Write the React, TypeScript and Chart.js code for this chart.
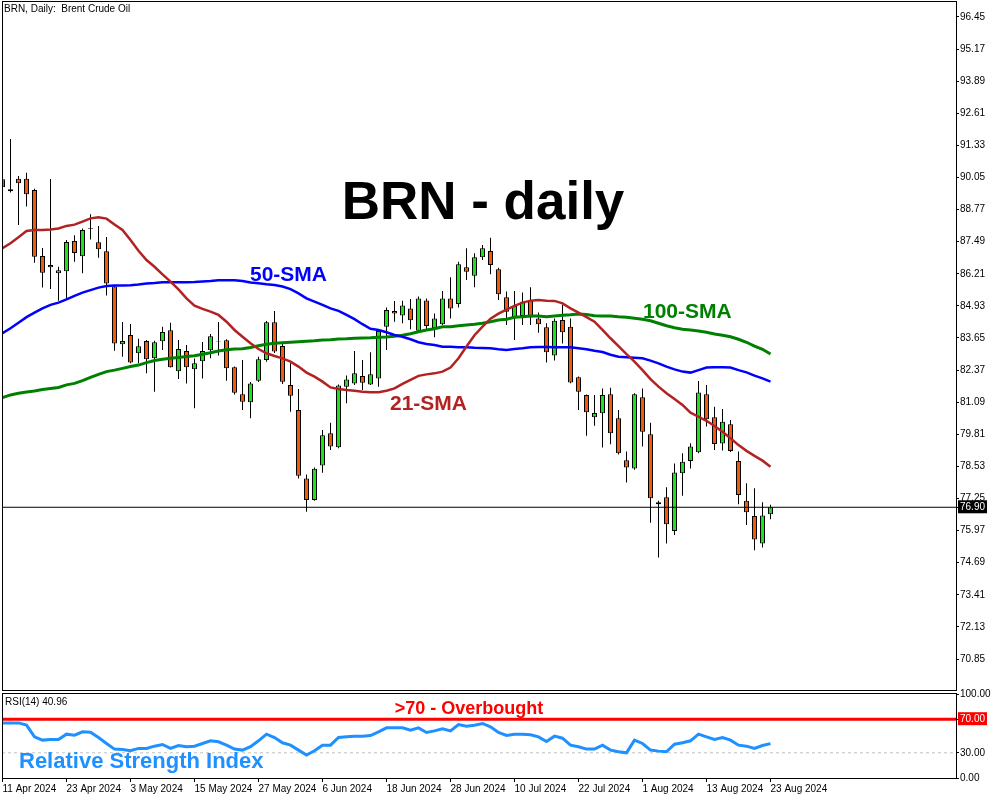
import React, { useEffect, useRef } from "react";
import { Chart, registerables } from "chart.js";

Chart.register(...registerables);

// ---------- data ----------
const DATE_LABELS = ["11 Apr 2024", "23 Apr 2024", "3 May 2024", "15 May 2024", "27 May 2024", "6 Jun 2024", "18 Jun 2024", "28 Jun 2024", "10 Jul 2024", "22 Jul 2024", "1 Aug 2024", "13 Aug 2024", "23 Aug 2024"];
const DATE_TICK_BARS = [0, 8, 16, 24, 32, 40, 48, 56, 64, 72, 80, 88, 96];

const OPEN = [89.98, 89.58, 90.0, 90.0, 89.55, 86.92, 86.47, 86.23, 86.31, 87.52, 86.91, 88.03, 87.47, 87.11, 85.7, 83.4, 83.77, 83.04, 83.53, 82.84, 83.52, 83.96, 82.32, 83.13, 82.4, 82.72, 83.16, 83.53, 83.56, 82.48, 81.41, 81.09, 81.95, 82.77, 84.28, 83.33, 81.78, 80.78, 78.05, 77.19, 78.57, 79.85, 79.29, 81.71, 81.84, 82.13, 81.8, 82.04, 84.1, 84.73, 84.55, 84.83, 83.94, 85.15, 84.04, 84.2, 85.23, 85.01, 86.47, 86.13, 86.87, 87.12, 86.39, 85.27, 84.47, 84.53, 85.13, 84.43, 84.08, 82.95, 84.37, 84.1, 82.08, 81.38, 80.49, 80.65, 81.41, 80.45, 78.78, 78.45, 81.29, 79.81, 77.1, 77.3, 75.95, 78.26, 78.75, 79.09, 81.41, 80.49, 79.44, 80.21, 78.75, 77.16, 76.55, 75.46, 76.62];
const HIGH = [90.1, 91.59, 90.11, 90.24, 89.6, 87.24, 89.99, 86.49, 87.56, 87.75, 88.02, 88.58, 88.12, 87.68, 85.75, 84.29, 84.21, 83.62, 83.57, 83.54, 84.1, 84.26, 83.57, 83.37, 82.83, 83.49, 83.81, 84.29, 83.6, 82.51, 82.77, 81.9, 82.9, 84.33, 84.73, 83.5, 82.64, 81.62, 78.21, 78.49, 79.98, 80.27, 81.8, 82.15, 83.13, 82.77, 83.08, 83.97, 84.87, 85.13, 85.14, 85.21, 85.3, 85.23, 84.63, 85.52, 86.07, 86.69, 87.23, 87.03, 87.36, 87.65, 86.45, 85.5, 85.52, 85.46, 85.67, 84.67, 84.24, 84.43, 84.97, 84.43, 82.11, 81.4, 81.38, 81.64, 81.67, 80.78, 79.12, 81.45, 81.64, 80.27, 77.16, 77.7, 78.65, 79.05, 79.45, 81.94, 81.78, 80.91, 80.82, 80.38, 79.12, 77.86, 77.66, 77.1, 77.0];
const LOW = [89.5, 89.45, 88.16, 88.89, 86.65, 85.66, 85.6, 85.14, 85.23, 86.69, 86.23, 87.58, 86.85, 85.34, 83.14, 82.9, 82.64, 82.64, 82.24, 81.51, 83.17, 82.47, 82.02, 81.84, 80.85, 82.04, 82.84, 82.95, 81.95, 81.4, 80.78, 80.45, 81.9, 82.7, 83.05, 81.82, 80.71, 78.05, 76.72, 77.16, 78.28, 79.18, 79.25, 81.05, 81.78, 81.58, 81.78, 81.71, 83.17, 84.3, 84.24, 84.0, 83.9, 83.94, 83.68, 84.17, 84.43, 84.87, 85.96, 85.67, 86.76, 86.19, 85.17, 84.17, 83.57, 84.17, 84.17, 83.86, 82.67, 82.75, 83.43, 81.85, 80.78, 79.75, 80.15, 79.28, 79.41, 79.0, 77.89, 78.4, 79.32, 76.28, 74.9, 75.46, 75.79, 77.36, 78.45, 79.05, 80.12, 79.18, 79.16, 79.1, 77.02, 76.19, 75.19, 75.3, 76.42];
const CLOSE = [89.66, 89.5, 89.82, 89.38, 86.89, 86.25, 86.56, 86.35, 87.48, 87.04, 87.96, 88.0, 87.19, 85.82, 83.43, 83.53, 82.67, 83.32, 82.8, 83.48, 83.89, 82.48, 83.21, 82.48, 82.64, 83.13, 83.72, 83.51, 82.44, 81.47, 81.11, 81.84, 82.8, 84.28, 83.11, 81.91, 81.35, 78.16, 77.19, 78.44, 79.77, 79.32, 81.76, 82.0, 82.24, 81.87, 82.2, 83.93, 84.77, 84.63, 84.95, 84.36, 85.23, 84.13, 84.43, 85.23, 84.83, 86.59, 86.29, 86.87, 87.23, 86.56, 85.39, 84.7, 84.93, 85.1, 84.47, 84.2, 83.08, 84.34, 83.88, 81.88, 81.51, 80.69, 80.66, 81.38, 79.85, 79.05, 78.49, 81.41, 79.91, 77.26, 77.02, 76.22, 78.29, 78.72, 79.32, 81.48, 80.41, 79.42, 80.31, 79.14, 77.39, 76.7, 75.62, 76.57, 76.9];

const SMA21 = [87.23, 87.43, 87.67, 87.92, 87.96, 87.96, 87.98, 88.02, 88.12, 88.17, 88.29, 88.42, 88.46, 88.41, 88.18, 87.96, 87.56, 87.13, 86.76, 86.49, 86.19, 85.9, 85.59, 85.23, 84.94, 84.81, 84.7, 84.57, 84.3, 83.97, 83.7, 83.44, 83.21, 83.04, 82.93, 82.84, 82.71, 82.51, 82.27, 82.11, 81.91, 81.68, 81.62, 81.58, 81.55, 81.51, 81.49, 81.49, 81.55, 81.64, 81.82, 81.98, 82.14, 82.2, 82.24, 82.31, 82.47, 82.84, 83.31, 83.76, 84.1, 84.42, 84.62, 84.78, 84.93, 85.06, 85.14, 85.17, 85.14, 85.13, 85.03, 84.83, 84.66, 84.48, 84.3, 83.97, 83.64, 83.33, 83.01, 82.71, 82.37, 82.01, 81.71, 81.45, 81.22, 80.98, 80.67, 80.51, 80.35, 80.14, 79.91, 79.65, 79.38, 79.15, 78.95, 78.76, 78.52];
const SMA50 = [83.84, 84.04, 84.26, 84.48, 84.66, 84.83, 84.97, 85.06, 85.19, 85.33, 85.46, 85.56, 85.66, 85.72, 85.74, 85.74, 85.75, 85.78, 85.82, 85.84, 85.87, 85.87, 85.87, 85.87, 85.88, 85.9, 85.92, 85.95, 85.95, 85.95, 85.92, 85.86, 85.83, 85.79, 85.76, 85.7, 85.6, 85.43, 85.23, 85.1, 84.97, 84.83, 84.73, 84.57, 84.4, 84.2, 84.02, 83.97, 83.88, 83.77, 83.7, 83.6, 83.48, 83.41, 83.37, 83.3, 83.3, 83.28, 83.28, 83.26, 83.25, 83.24, 83.2, 83.17, 83.21, 83.24, 83.28, 83.29, 83.29, 83.28, 83.28, 83.28, 83.24, 83.2, 83.14, 83.09, 82.98, 82.9, 82.88, 82.86, 82.84, 82.75, 82.64, 82.51, 82.4, 82.31, 82.27, 82.37, 82.47, 82.48, 82.48, 82.47, 82.37, 82.28, 82.15, 82.04, 81.91];
const SMA100 = [81.27, 81.38, 81.45, 81.5, 81.54, 81.6, 81.64, 81.68, 81.78, 81.84, 81.95, 82.08, 82.2, 82.31, 82.37, 82.44, 82.51, 82.57, 82.67, 82.75, 82.8, 82.84, 82.87, 82.91, 82.94, 83.0, 83.06, 83.13, 83.18, 83.21, 83.22, 83.27, 83.34, 83.4, 83.44, 83.46, 83.48, 83.5, 83.52, 83.54, 83.57, 83.58, 83.61, 83.62, 83.64, 83.65, 83.66, 83.68, 83.69, 83.72, 83.76, 83.82, 83.9, 83.97, 84.02, 84.1, 84.1, 84.14, 84.17, 84.2, 84.24, 84.3, 84.37, 84.4, 84.48, 84.5, 84.53, 84.53, 84.5, 84.53, 84.56, 84.58, 84.61, 84.59, 84.54, 84.53, 84.53, 84.5, 84.48, 84.44, 84.4, 84.34, 84.24, 84.14, 84.06, 84.0, 83.97, 83.93, 83.88, 83.81, 83.76, 83.7, 83.6, 83.48, 83.33, 83.2, 83.01];
const RSI14 = [65.6, 65.6, 65.6, 62.9, 49.0, 45.1, 45.9, 45.9, 52.2, 51.0, 55.0, 54.6, 48.2, 41.1, 34.4, 34.0, 32.4, 35.2, 35.2, 37.9, 39.9, 35.2, 38.7, 37.2, 37.9, 41.1, 44.3, 43.1, 39.1, 34.4, 33.2, 37.2, 44.3, 52.2, 48.2, 41.9, 39.1, 33.2, 27.3, 32.4, 39.1, 39.1, 48.2, 49.0, 49.8, 49.8, 50.6, 55.0, 59.7, 59.7, 59.7, 56.9, 59.7, 54.2, 56.1, 58.5, 56.1, 63.7, 61.7, 62.9, 64.9, 60.9, 54.2, 50.6, 52.2, 52.2, 51.4, 49.0, 43.5, 49.8, 47.4, 39.1, 37.2, 34.4, 34.4, 39.1, 33.2, 31.2, 30.0, 45.1, 41.1, 33.2, 32.0, 31.2, 40.3, 41.9, 44.3, 52.2, 49.0, 45.9, 48.2, 45.1, 39.1, 37.9, 35.2, 38.7, 40.96];

const PRICE_TICKS = [96.45, 95.17, 93.89, 92.61, 91.33, 90.05, 88.77, 87.49, 86.21, 84.93, 83.65, 82.37, 81.09, 79.81, 78.53, 77.25, 75.97, 74.69, 73.41, 72.13, 70.85];
const RSI_TICKS = [100, 70, 30, 0];
const LAST_PRICE = 76.9;
const LAST_RSI = 40.96;
const RSI_OVERBOUGHT = 70;
const RSI_OVERSOLD = 30;

// ---------- axis ranges & styles ----------
const X_MIN = -0.0625;
const X_MAX = 119.1875;
const PRICE_MIN = 69.614;
const PRICE_MAX = 97.048;

const GREEN = "#1FE01F";
const ORANGE = "#F25A0C";
const FONT = '"Liberation Sans", Arial, sans-serif';

const BARS = CLOSE.map((_, i) => i);

const noPad = (s: any) => {
  s.paddingTop = 0;
  s.paddingBottom = 0;
  s.paddingLeft = 0;
  s.paddingRight = 0;
};

const mainOverlay = {
  id: "mainOverlay",
  afterDraw(chart: any) {
    const ctx = chart.ctx;
    ctx.save();
    ctx.strokeStyle = "#000";
    ctx.lineWidth = 1;
    ctx.strokeRect(2.5, 1.5, 954, 689);
    ctx.fillStyle = "#000";
    ctx.font = `10px ${FONT}`;
    ctx.textBaseline = "middle";
    ctx.textAlign = "left";
    ctx.fillText("BRN, Daily:  Brent Crude Oil", 4, 9);
    ctx.textBaseline = "alphabetic";
    ctx.font = `bold 53px ${FONT}`;
    ctx.textAlign = "center";
    ctx.fillText("BRN - daily", 483, 219);
    ctx.textAlign = "left";
    ctx.font = `bold 21px ${FONT}`;
    ctx.fillStyle = "#0000FF";
    ctx.fillText("50-SMA", 250, 281);
    ctx.fillStyle = "#B22222";
    ctx.fillText("21-SMA", 390, 410);
    ctx.fillStyle = "#008000";
    ctx.fillText("100-SMA", 643, 318);
    ctx.restore();
  },
};

const rsiOverlay = {
  id: "rsiOverlay",
  afterDraw(chart: any) {
    const ctx = chart.ctx;
    ctx.save();
    ctx.strokeStyle = "#000";
    ctx.lineWidth = 1;
    ctx.strokeRect(2.5, 9.5, 954, 85);
    ctx.fillStyle = "#000";
    ctx.font = `10px ${FONT}`;
    ctx.textBaseline = "middle";
    ctx.textAlign = "left";
    ctx.fillText(`RSI(14) ${LAST_RSI.toFixed(2)}`, 5, 18);
    ctx.textBaseline = "alphabetic";
    ctx.font = `bold 18px ${FONT}`;
    ctx.fillStyle = "#FF0000";
    ctx.textAlign = "center";
    ctx.fillText(">70 - Overbought", 469, 30);
    ctx.textAlign = "left";
    ctx.font = `bold 22px ${FONT}`;
    ctx.fillStyle = "#1E90FF";
    ctx.fillText("Relative Strength Index", 19, 84);
    ctx.restore();
  },
};

export default function App() {
  const mainRef = useRef<HTMLCanvasElement>(null);
  const rsiRef = useRef<HTMLCanvasElement>(null);

  useEffect(() => {
    Chart.defaults.font.family = FONT;
    const tickFont = { family: FONT, size: 10 };

    const main = new Chart(mainRef.current as HTMLCanvasElement, {
      type: "bar",
      data: {
        datasets: [
          { type: "line", label: "21-SMA", data: BARS.map((i) => ({ x: i, y: SMA21[i] })), borderColor: "#B22222", borderWidth: 2.5, pointRadius: 0, tension: 0, order: 1 } as any,
          { type: "line", label: "50-SMA", data: BARS.map((i) => ({ x: i, y: SMA50[i] })), borderColor: "#0000FF", borderWidth: 2.5, pointRadius: 0, tension: 0, order: 2 } as any,
          { type: "line", label: "100-SMA", data: BARS.map((i) => ({ x: i, y: SMA100[i] })), borderColor: "#008000", borderWidth: 3, pointRadius: 0, tension: 0, order: 3 } as any,
          { type: "line", label: "Last", data: [{ x: X_MIN, y: LAST_PRICE }, { x: X_MAX, y: LAST_PRICE }], borderColor: "#000", borderWidth: 1, pointRadius: 0, order: 4 } as any,
          {
            type: "bar", label: "Body", data: BARS.map((i) => ({ x: i, y: [OPEN[i], CLOSE[i]] })),
            backgroundColor: BARS.map((i) => (CLOSE[i] >= OPEN[i] ? GREEN : ORANGE)),
            borderColor: "#000", borderWidth: 1, borderSkipped: false, barThickness: 5, grouped: false, inflateAmount: 0, order: 5,
          } as any,
          {
            type: "bar", label: "Wick", data: BARS.map((i) => ({ x: i, y: [LOW[i], HIGH[i]] })),
            backgroundColor: "#000", borderWidth: 0, barThickness: 1, grouped: false, inflateAmount: 0, order: 6,
          } as any,
        ],
      },
      options: {
        animation: false,
        responsive: false,
        maintainAspectRatio: false,
        events: [],
        layout: { padding: { left: 2, top: 2, right: 0, bottom: 2 } },
        plugins: { legend: { display: false }, tooltip: { enabled: false } },
        scales: {
          x: { type: "linear", min: X_MIN, max: X_MAX, offset: false, display: false, grid: { offset: false }, afterFit: noPad } as any,
          y: {
            type: "linear", position: "right", min: PRICE_MIN, max: PRICE_MAX, beginAtZero: false,
            afterBuildTicks: (s: any) => { s.ticks = [...PRICE_TICKS, LAST_PRICE].map((value) => ({ value })); },
            afterFit: (s: any) => { s.width = 44; noPad(s); },
            ticks: {
              autoSkip: false, padding: 1, font: tickFont,
              color: (c: any) => (c.tick && c.tick.value === LAST_PRICE ? "#FFFFFF" : "#000000"),
              showLabelBackdrop: (c: any) => !!(c.tick && c.tick.value === LAST_PRICE),
              backdropColor: "#000000",
              backdropPadding: { left: 2, right: 2, top: 1, bottom: 0 },
              callback: (v: any) => Number(v).toFixed(2),
            },
            grid: { drawOnChartArea: false, drawTicks: true, tickLength: 3, color: "#000" },
            border: { display: true, color: "#000" },
          } as any,
        },
      },
      plugins: [mainOverlay],
    });

    const rsi = new Chart(rsiRef.current as HTMLCanvasElement, {
      type: "line",
      data: {
        datasets: [
          { label: "RSI(14)", data: BARS.map((i) => ({ x: i, y: RSI14[i] })), borderColor: "#1E90FF", borderWidth: 3, pointRadius: 0, tension: 0, order: 1 },
          { label: "70", data: [{ x: X_MIN, y: RSI_OVERBOUGHT }, { x: X_MAX, y: RSI_OVERBOUGHT }], borderColor: "#FF0000", borderWidth: 3, pointRadius: 0, order: 2 },
          { label: "30", data: [{ x: X_MIN, y: RSI_OVERSOLD }, { x: X_MAX, y: RSI_OVERSOLD }], borderColor: "#C0C0C0", borderWidth: 1, borderDash: [3, 3], pointRadius: 0, order: 3 },
        ],
      },
      options: {
        animation: false,
        responsive: false,
        maintainAspectRatio: false,
        events: [],
        layout: { padding: { left: 2, top: 10, right: 0, bottom: 0 } },
        plugins: { legend: { display: false }, tooltip: { enabled: false } },
        scales: {
          x: {
            type: "linear", min: X_MIN, max: X_MAX, offset: false,
            afterBuildTicks: (s: any) => { s.ticks = DATE_TICK_BARS.map((value) => ({ value })); },
            afterFit: (s: any) => { s.height = 22; noPad(s); },
            ticks: {
              autoSkip: false, maxRotation: 0, minRotation: 0, align: "start", padding: 1, font: tickFont, color: "#000",
              callback: (_v: any, idx: number) => DATE_LABELS[idx],
            },
            grid: { drawOnChartArea: false, drawTicks: true, tickLength: 4, color: "#000" },
            border: { display: true, color: "#000" },
          } as any,
          y: {
            type: "linear", position: "right", min: 0, max: 100,
            afterBuildTicks: (s: any) => { s.ticks = RSI_TICKS.map((value) => ({ value })); },
            afterFit: (s: any) => { s.width = 44; noPad(s); },
            ticks: {
              autoSkip: false, padding: 1, font: tickFont,
              color: (c: any) => (c.tick && c.tick.value === RSI_OVERBOUGHT ? "#FFFFFF" : "#000000"),
              showLabelBackdrop: (c: any) => !!(c.tick && c.tick.value === RSI_OVERBOUGHT),
              backdropColor: "#FF0000",
              backdropPadding: { left: 2, right: 2, top: 1, bottom: 0 },
              callback: (v: any) => Number(v).toFixed(2),
            },
            grid: { drawOnChartArea: false, drawTicks: true, tickLength: 3, color: "#000" },
            border: { display: true, color: "#000" },
          } as any,
        },
      },
      plugins: [rsiOverlay],
    });

    return () => {
      main.destroy();
      rsi.destroy();
    };
  }, []);

  return (
    <div style={{ position: "absolute", left: 0, top: 0, width: 1000, height: 800, background: "#fff", overflow: "hidden" }}>
      <canvas ref={mainRef} width={1000} height={692} style={{ position: "absolute", left: 0, top: 0, width: 1000, height: 692 }} />
      <canvas ref={rsiRef} width={1000} height={116} style={{ position: "absolute", left: 0, top: 684, width: 1000, height: 116 }} />
    </div>
  );
}
